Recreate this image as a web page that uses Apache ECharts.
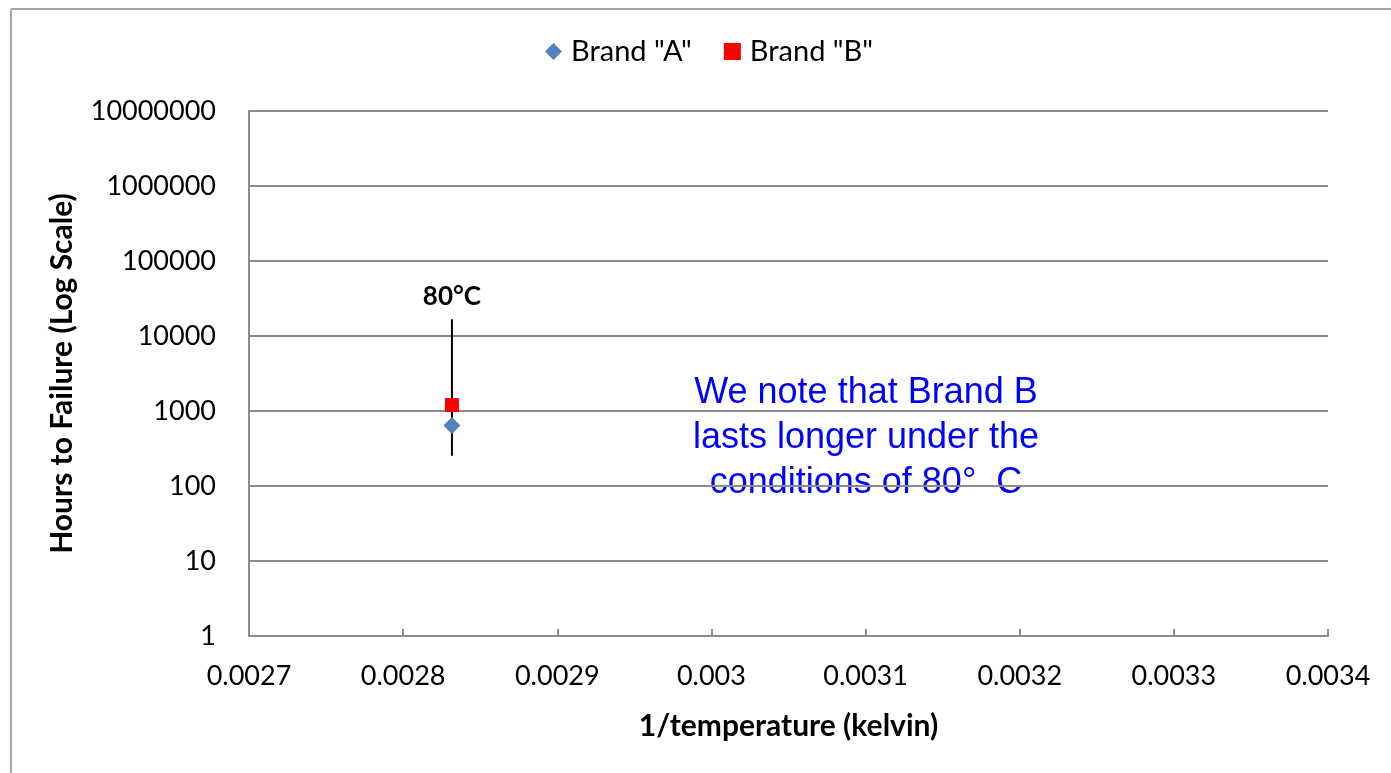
<!DOCTYPE html>
<html>
<head>
<meta charset="utf-8">
<script src="https://cdn.jsdelivr.net/npm/echarts@6/dist/echarts.min.js"></script>
<style>
html,body{margin:0;padding:0;background:#fff;}
#chart{width:1391px;height:773px;}
</style>
</head>
<body>
<div id="chart"></div>
<script>
// ---- data ----
var seriesNames = ['Brand "A"', 'Brand "B"'];
var invTemp80C = 1 / 353.15;           // 1/temperature (kelvin) at 80 °C
var brandA = [[invTemp80C, 640]];       // hours to failure
var brandB = [[invTemp80C, 1200]];
var markerLine = [[invTemp80C, 16700], [invTemp80C, 253]];
var markerLabel = '80°C';
var xTicks = ['0.0027','0.0028','0.0029','0.003','0.0031','0.0032','0.0033','0.0034'];
var yTicks = ['1','10','100','1000','10000','100000','1000000','10000000'];
var note = 'We note that Brand B\nlasts longer under the\nconditions of 80°  C';

var chart = echarts.init(document.getElementById('chart'));
var labelFont = 'Lato, "Open Sans", sans-serif';

var option = {
  backgroundColor: '#ffffff',
  animation: false,
  legend: {
    top: 32,
    left: 540,
    itemGap: 32,
    itemWidth: 17,
    itemHeight: 17,
    textStyle: { fontFamily: labelFont, fontSize: 29, color: '#000', padding: [0, 0, 0, 4] },
    data: [
      { name: seriesNames[0], icon: 'diamond' },
      { name: seriesNames[1], icon: 'rect' }
    ]
  },
  grid: { left: 249, right: 63, top: 111, bottom: 137, containLabel: false },
  xAxis: {
    type: 'value',
    min: 0.0027,
    max: 0.0034,
    interval: 0.0001,
    name: '1/temperature (kelvin)',
    nameLocation: 'middle',
    nameGap: 75,
    nameTextStyle: { fontFamily: labelFont, fontSize: 30, fontWeight: 'bold', color: '#000' },
    axisLine: { show: true, lineStyle: { color: '#8c8c8c', width: 2 } },
    axisTick: { show: true, inside: true, length: 7, lineStyle: { color: '#8c8c8c', width: 2 } },
    splitLine: { show: false },
    axisLabel: {
      margin: 27,
      fontFamily: labelFont, fontSize: 27, color: '#000',
      formatter: function (v) {
        var s = (Math.round(v * 10000) / 10000).toFixed(4).replace(/0+$/, '');
        var idx = xTicks.indexOf(s);
        return idx >= 0 ? xTicks[idx] : s;
      }
    }
  },
  yAxis: {
    type: 'log',
    logBase: 10,
    min: 1,
    max: 10000000,
    name: 'Hours to Failure (Log Scale)',
    nameLocation: 'middle',
    nameRotate: 90,
    nameGap: 172,
    nameTextStyle: { fontFamily: labelFont, fontSize: 30, fontWeight: 'bold', color: '#000' },
    axisLine: { show: true, lineStyle: { color: '#8c8c8c', width: 2 } },
    axisTick: { show: false },
    splitLine: { show: true, lineStyle: { color: '#8c8c8c', width: 2 } },
    axisLabel: {
      margin: 33,
      fontFamily: labelFont, fontSize: 27, color: '#000',
      formatter: function (v) {
        var s = String(Math.round(v));
        return yTicks.indexOf(s) >= 0 ? s : '';
      }
    }
  },
  series: [
    {
      name: '80C',
      type: 'line',
      data: markerLine,
      symbol: 'none',
      silent: true,
      lineStyle: { color: '#000', width: 2 },
      z: 1,
      markPoint: {
        symbol: 'rect',
        symbolSize: 1,
        itemStyle: { color: 'rgba(0,0,0,0)' },
        label: {
          show: true,
          formatter: markerLabel,
          position: 'top',
          distance: 9,
          fontFamily: labelFont, fontSize: 26, fontWeight: 'bold', color: '#000'
        },
        data: [{ coord: markerLine[0] }]
      }
    },
    {
      name: seriesNames[0],
      type: 'scatter',
      data: brandA,
      symbol: 'diamond',
      symbolSize: 17,
      itemStyle: { color: '#4F81BD', opacity: 1 },
      z: 3
    },
    {
      name: seriesNames[1],
      type: 'scatter',
      data: brandB,
      symbol: 'rect',
      symbolSize: 14,
      itemStyle: { color: '#FF0000', opacity: 1 },
      z: 3
    }
  ],
  graphic: [
    { type: 'line', shape: { x1: 11, y1: 9, x2: 11, y2: 773 }, style: { stroke: '#a6a6a6', lineWidth: 2 } },
    { type: 'line', shape: { x1: 11, y1: 9, x2: 1391, y2: 9 }, style: { stroke: '#a6a6a6', lineWidth: 2 } },
    {
      type: 'text',
      x: 866, y: 371,
      style: {
        text: note,
        textAlign: 'center',
        textVerticalAlign: 'top',
        font: '36px "Liberation Sans", Arial, sans-serif',
        lineHeight: 45,
        fill: '#0000FF'
      }
    }
  ]
};
chart.setOption(option);
</script>
</body>
</html>
